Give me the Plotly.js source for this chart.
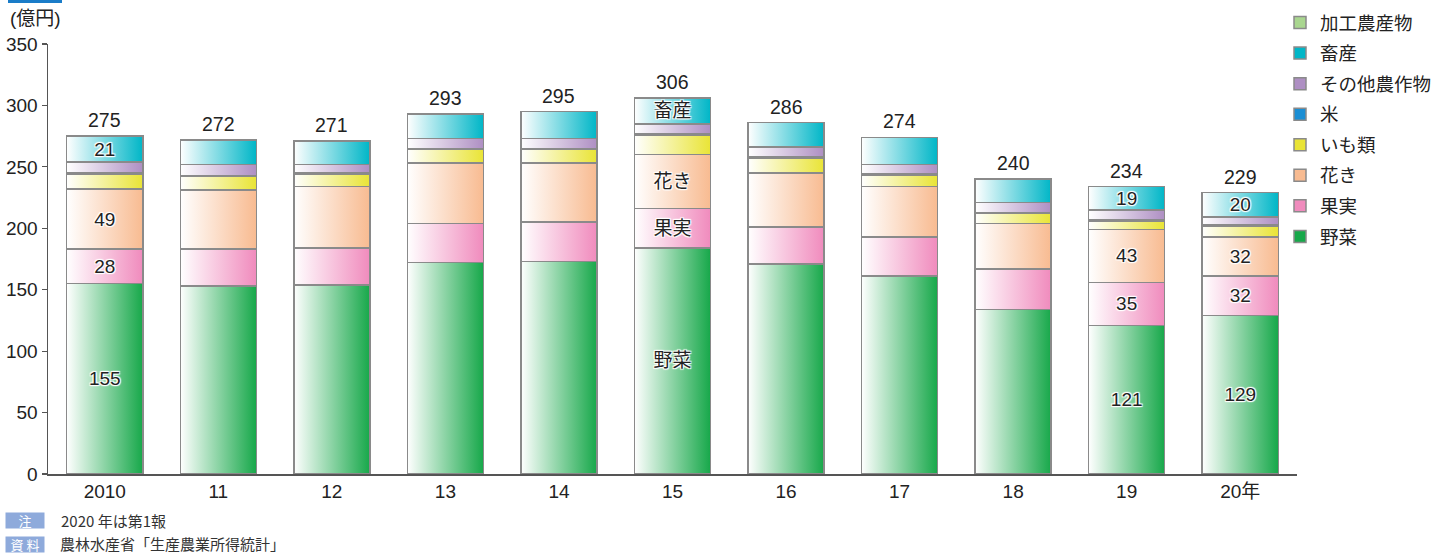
<!DOCTYPE html>
<html>
<head>
<meta charset="utf-8">
<script src="https://cdn.plot.ly/plotly-3.0.1.min.js"></script>
<style>
html,body{margin:0;padding:0;background:#fff;}
#plot{width:1435px;height:554px;}
</style>
</head>
<body>
<div id="plot"></div>
<script>
// ---- data (億円) ----
const years = ['2010','11','12','13','14','15','16','17','18','19','20年'];
const vegetables  = [155,153,154,172,173,184,171,161,134,121,129];
const fruits      = [28,30,30,32,32,32,30,32,33,35,32];
const flowers     = [49,48,50,49,48,44,44,41,37,43,32];
const potatoes    = [12,11,10,11,11,16,12,9,8,7,9];
const rice        = [1,1,1,1,1,1,1,1,1,1,1];
const otherCrops  = [9,9,7,8,8,8,8,8,8,8,6];
const livestock   = [21,20,19,20,22,21,20,22,19,19,20];
const processed   = [0,0,0,0,0,0,0,0,0,0,0];

const seriesNames  = ['野菜','果実','花き','いも類','米','その他農作物','畜産','加工農産物'];
const seriesColors = ['#17a84a','#f08bbd','#f8bb91','#e9e436','#1a8ed4','#ae8fc3','#00b6c7','#a9d68f'];
const numberLabelIdx = [0,9,10];   // years whose segments show values
const nameLabelIdx = [5];          // year whose segments show category names
const labelledSeries = [0,1,2,6];  // 野菜, 果実, 花き, 畜産

const seriesValues = [vegetables,fruits,flowers,potatoes,rice,otherCrops,livestock,processed];

const FONT = "'Liberation Sans','Noto Sans CJK JP',sans-serif";
const JP = "'Noto Sans CJK JP',sans-serif";
const halo = '1px 1px 1px #fff, -1px -1px 1px #fff, 1px -1px 1px #fff, -1px 1px 1px #fff, 0 0 2px #fff';

const traces = seriesValues.map((vals, s) => {
  const text = vals.map((v, i) => {
    if (!labelledSeries.includes(s)) return '';
    if (numberLabelIdx.includes(i)) return String(v);
    if (nameLabelIdx.includes(i)) return seriesNames[s];
    return '';
  });
  return {
    type: 'bar',
    name: seriesNames[s],
    x: years,
    y: vals,
    text: text,
    textposition: 'inside',
    insidetextanchor: 'middle',
    constraintext: 'none',
    textangle: 0,
    insidetextfont: {family: FONT, size: 19, color: '#222', shadow: halo},
    marker: {color: seriesColors[s], line: {color: '#8a8a8a', width: 1.5}},
    hoverinfo: 'skip',
    legendgroup: 'g' + s,
    legendrank: 100 - s
  };
});

const totals = years.map((_, i) => seriesValues.reduce((a, arr) => a + arr[i], 0));

// pixel helpers for paper placement
const L = 48, T = 44, PW = 1249, PH = 430;
const xp = px => (px - L) / PW;
const yp = py => (T + PH - py) / PH;

const annotations = years.map((yr, i) => ({
  x: i, y: totals[i], xref: 'x', yref: 'y',
  text: String(totals[i]), showarrow: false,
  yanchor: 'bottom', yshift: 3,
  font: {family: FONT, size: 19.5, color: '#222'}
}));

annotations.push(
  {xref:'paper', yref:'paper', x: xp(8), y: yp(18), xanchor:'left', yanchor:'middle',
   text:'(億円)', showarrow:false, font:{family:FONT, size:19, color:'#222'}},
  {xref:'paper', yref:'paper', x: xp(5), y: yp(520), xanchor:'left', yanchor:'middle',
   text:'注', showarrow:false, bgcolor:'#8eaadb', width:38, height:15, borderpad:0,
   font:{family:JP, size:13, color:'#fff'}},
  {xref:'paper', yref:'paper', x: xp(59), y: yp(520), xanchor:'left', yanchor:'middle',
   text:'2020 年は第1報', showarrow:false,
   font:{family:JP, size:15, color:'#333'}},
  {xref:'paper', yref:'paper', x: xp(5), y: yp(544), xanchor:'left', yanchor:'middle',
   text:'資 料', showarrow:false, bgcolor:'#8eaadb', width:38, height:15, borderpad:0,
   font:{family:JP, size:13, color:'#fff'}},
  {xref:'paper', yref:'paper', x: xp(59), y: yp(543), xanchor:'left', yanchor:'middle',
   text:'農林水産省「生産農業所得統計」', showarrow:false, borderpad:0,
   font:{family:JP, size:15, color:'#333'}}
);

const layout = {
  width: 1435, height: 554,
  margin: {l: L, r: 1435 - L - PW, t: T, b: 554 - T - PH, pad: 0, autoexpand: false},
  paper_bgcolor: '#fff', plot_bgcolor: '#fff',
  barmode: 'stack', bargap: 0.33,
  showlegend: true,
  legend: {
    x: xp(1280), y: yp(4), xanchor: 'left', yanchor: 'top',
    traceorder: 'grouped', tracegroupgap: 3.5,
    font: {family: JP, size: 18.5, color: '#222'},
    bgcolor: 'rgba(0,0,0,0)'
  },
  xaxis: {
    type: 'category', range: [-0.5, 10.5],
    showline: true, linecolor: '#555', linewidth: 1.5,
    ticks: '', showgrid: false, zeroline: false,
    tickfont: {family: FONT, size: 19, color: '#222'}
  },
  yaxis: {
    range: [0, 350], dtick: 50, tick0: 0,
    showline: true, linecolor: '#555', linewidth: 1.5,
    ticks: 'outside', ticklen: 5, tickcolor: '#555', tickwidth: 1.2,
    showgrid: false, zeroline: false,
    tickfont: {family: FONT, size: 19, color: '#222'}
  },
  annotations: annotations,
  shapes: [
    {type:'rect', xref:'paper', yref:'paper', x0: xp(8), x1: xp(62), y0: yp(3), y1: yp(-2),
     fillcolor:'#1a7cc8', line:{width:0}}
  ]
};

function applyGradients(gd) {
  const svg = gd.querySelector('svg.main-svg');
  let defs = svg.querySelector('defs');
  if (!defs) { defs = document.createElementNS('http://www.w3.org/2000/svg','defs'); svg.insertBefore(defs, svg.firstChild); }
  seriesColors.forEach((c, s) => {
    const g = document.createElementNS('http://www.w3.org/2000/svg','linearGradient');
    g.setAttribute('id', 'barGrad' + s);
    g.setAttribute('x1','0'); g.setAttribute('y1','0'); g.setAttribute('x2','1'); g.setAttribute('y2','0');
    [['0','#ffffff'],['1',c]].forEach(([o,col]) => {
      const st = document.createElementNS('http://www.w3.org/2000/svg','stop');
      st.setAttribute('offset', o); st.setAttribute('stop-color', col);
      g.appendChild(st);
    });
    defs.appendChild(g);
  });
  const groups = gd.querySelectorAll('.barlayer .trace.bars');
  groups.forEach((grp, s) => {
    grp.querySelectorAll('.point path').forEach(p => { p.style.fill = 'url(#barGrad' + s + ')'; });
  });
}

Plotly.newPlot('plot', traces, layout, {staticPlot: true, displayModeBar: false})
  .then(gd => applyGradients(gd));
</script>
</body>
</html>
